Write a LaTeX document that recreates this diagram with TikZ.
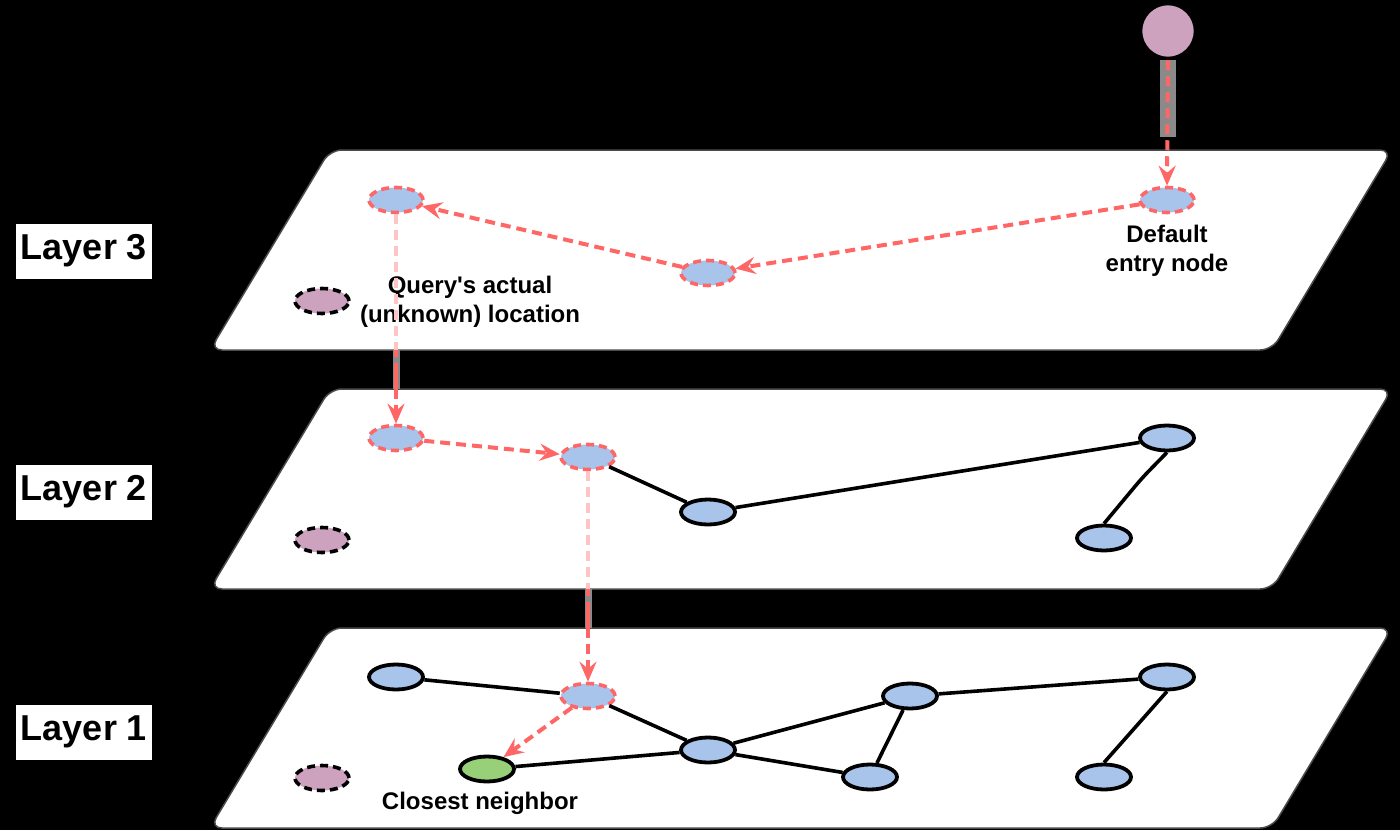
\documentclass[tikz,border=0pt]{standalone}
\usepackage{fontspec}
\setmainfont{Liberation Sans}
\usetikzlibrary{arrows.meta,shapes.geometric}
\definecolor{qred}{HTML}{FF6666}
\definecolor{qblue}{HTML}{A9C4EB}
\definecolor{qpurple}{HTML}{CDA2BE}
\definecolor{qgreen}{HTML}{97D077}
\definecolor{qpale}{HTML}{FFC4C4}
\definecolor{qgray}{HTML}{8A8A8A}
\begin{document}
\begin{tikzpicture}[x=1pt,y=-1pt,
  plane/.style={draw=black!70, line width=1.5pt, fill=white, rounded corners=12pt},
  vtx/.style={ellipse, draw=black, line width=3.8pt, fill=qblue, minimum width=54pt, minimum height=25pt, inner sep=0pt},
  hit/.style={ellipse, draw=qred, line width=3.6pt, dash pattern=on 8pt off 5pt, fill=qblue, minimum width=54pt, minimum height=25pt, inner sep=0pt},
  qry/.style={ellipse, draw=black, line width=3.6pt, dash pattern=on 8pt off 5pt, fill=qpurple, minimum width=54pt, minimum height=25pt, inner sep=0pt},
  goal/.style={ellipse, draw=black, line width=3.8pt, fill=qgreen, minimum width=54pt, minimum height=25pt, inner sep=0pt},
  link/.style={draw=black, line width=3.6pt},
  walk/.style={draw=qred, line width=4pt, dash pattern=on 10pt off 6pt, -{Stealth[length=20pt,width=17pt,inset=7pt]}},
  fade/.style={draw=qpale, line width=3.5pt, dash pattern=on 10pt off 6pt},
  band/.style={draw=qgray, line width=7pt},
  wband/.style={draw=qgray, line width=16pt},
  gapline/.style={draw=qred, line width=4pt, dash pattern=on 26pt off 6pt},
  layerbox/.style={fill=white, inner sep=0pt, minimum width=136pt, minimum height=55pt, font=\bfseries\fontsize{36}{42}\selectfont},
  lbl/.style={align=center, inner sep=0pt, font=\bfseries\fontsize{24}{29}\selectfont}
]
\fill[black] (0,0) rectangle (1400,830);
\useasboundingbox (0,0) rectangle (1400,830);

% planes
\path[plane] (330,150) -- (1392,150) -- (1272,350) -- (210,350) -- cycle;
\path[plane] (330,389) -- (1392,389) -- (1272,589) -- (210,589) -- cycle;
\path[plane] (330,628) -- (1392,628) -- (1272,828) -- (210,828) -- cycle;

% layer labels
\node[layerbox] (L3) at (84,251) {Layer 3};
\node[layerbox] (L2) at (84,492) {Layer 2};
\node[layerbox] (L1) at (84,732) {Layer 1};

% entry point
\node[circle, draw=black, line width=3.5pt, fill=qpurple, minimum size=55pt, inner sep=0pt] (top) at (1168,31) {};

% layer 3
\node[hit] (A3) at (396,200) {};
\node[hit] (B3) at (708,273) {};
\node[hit] (C3) at (1167,200) {};
\node[qry] (Q3) at (322,301) {};
\node[lbl] (Ldef) at (1167,251) {Default\\entry node};
\node[lbl] (Lq) at (470,302) {Query\textquotesingle s actual\\(unknown) location};

% layer 2
\node[hit] (A2) at (396,438) {};
\node[hit] (B2) at (588,457) {};
\node[vtx] (C2) at (708,512) {};
\node[vtx] (D2) at (1167,438) {};
\node[vtx] (E2) at (1104,538) {};
\node[qry] (Q2) at (322,540) {};

% layer 1
\node[vtx] (N1) at (396,677) {};
\node[hit] (M1) at (588,696) {};
\node[vtx] (P1) at (708,750) {};
\node[vtx] (R1) at (910,696) {};
\node[vtx] (S1) at (870,777) {};
\node[vtx] (T1) at (1167,677) {};
\node[vtx] (U1) at (1104,777) {};
\node[goal] (G) at (487,769) {};
\node[qry] (Q1) at (322,778) {};
\node[lbl] (Lcn) at (480,803) {Closest neighbor};

% bend point
\coordinate (bD) at (1142,478);

% graph edges
\draw[link] (B2) -- (C2);
\draw[link] (C2) -- (D2);
\draw[link, rounded corners=10pt] (D2.south) -- (bD) -- (E2.north);
\draw[link] (N1) -- (M1);
\draw[link] (M1) -- (P1);
\draw[link] (P1) -- (G);
\draw[link] (P1) -- (R1);
\draw[link] (P1) -- (S1);
\draw[link] (R1) -- (S1);
\draw[link] (R1) -- (T1);
\draw[link] (T1.south) -- (U1.north);

% boundary coordinates
\coordinate (g0) at (1168,60);
\coordinate (g1) at (1168,137);
\coordinate (p3b) at (396,350);
\coordinate (p2t) at (396,389);
\coordinate (p2b) at (588,589);
\coordinate (p1t) at (588,628);

% search path
\draw[wband] (g0) -- (g1);
\draw[walk] (top.south) -- (C3.north);
\draw[walk] (C3) -- (B3);
\draw[walk] (B3) -- (A3);

\draw[fade] (A3.south) -- (p3b);
\draw[band] (p3b) -- (p2t);
\draw[gapline] (p2t) -- (p3b);
\draw[walk] (p2t) -- (A2.north);

\draw[walk] (A2) -- (B2);

\draw[fade] (B2.south) -- (p2b);
\draw[band] (p2b) -- (p1t);
\draw[gapline] (p1t) -- (p2b);
\draw[walk] (p1t) -- (M1.north);

\draw[walk] (M1) -- (G);
\end{tikzpicture}
\end{document}
